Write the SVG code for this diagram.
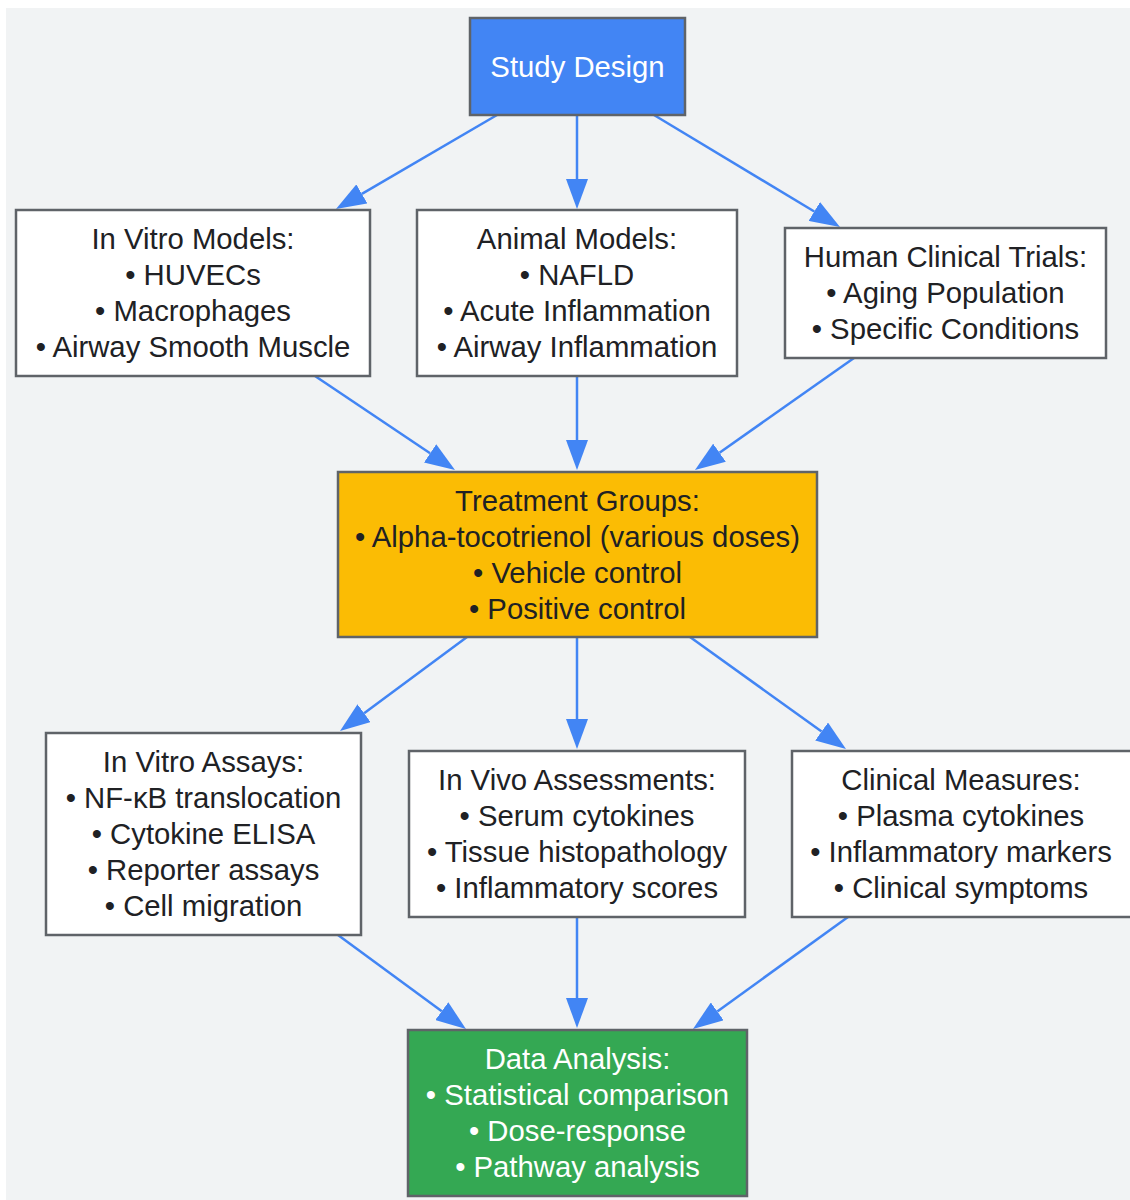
<svg xmlns="http://www.w3.org/2000/svg" width="1130" height="1200" viewBox="0 0 1130 1200">
<style>
.box{stroke:#5f6368;stroke-width:2.5}
.w{fill:#ffffff}
.t{font-family:"Liberation Sans",Arial,sans-serif;font-size:29.3px;text-anchor:middle;fill:#202124}
.lt{fill:#ffffff}
.edge{stroke:#4285f4;stroke-width:2.5;fill:none}
</style>
<defs>
<marker id="ah" markerUnits="userSpaceOnUse" markerWidth="30" markerHeight="22" refX="0" refY="11" orient="auto">
<path d="M0,0 L30,11 L0,22 z" fill="#4285f4"/>
</marker>
</defs>
<rect width="1130" height="1200" fill="#ffffff"/>
<rect x="6" y="8" width="1124" height="1192" fill="#f1f3f4"/>
<g id="connectors">
<line class="edge" x1="497" y1="115" x2="361.9" y2="193.9" marker-end="url(#ah)"/>
<line class="edge" x1="577" y1="115" x2="577" y2="179" marker-end="url(#ah)"/>
<line class="edge" x1="654" y1="115" x2="814.3" y2="211.5" marker-end="url(#ah)"/>
<line class="edge" x1="315" y1="376" x2="430.1" y2="453.3" marker-end="url(#ah)"/>
<line class="edge" x1="577" y1="376" x2="577" y2="440" marker-end="url(#ah)"/>
<line class="edge" x1="854" y1="358" x2="719.5" y2="452.7" marker-end="url(#ah)"/>
<line class="edge" x1="467" y1="637" x2="364.1" y2="713.2" marker-end="url(#ah)"/>
<line class="edge" x1="577" y1="637" x2="577" y2="719" marker-end="url(#ah)"/>
<line class="edge" x1="690" y1="637" x2="821.6" y2="731.5" marker-end="url(#ah)"/>
<line class="edge" x1="338" y1="935" x2="441.8" y2="1011.2" marker-end="url(#ah)"/>
<line class="edge" x1="577" y1="917" x2="577" y2="998" marker-end="url(#ah)"/>
<line class="edge" x1="848" y1="917" x2="717.3" y2="1011.4" marker-end="url(#ah)"/>
</g>
<g id="study-design">
<rect class="box" x="470" y="18" width="215" height="97" fill="#4285f4"/>
<text class="t lt" x="577.5" y="77">Study Design</text>
</g>
<g id="in-vitro-models">
<rect class="box w" x="16" y="210" width="354" height="166"/>
<text class="t" x="193" y="249">In Vitro Models:</text>
<text class="t" x="193" y="285">• HUVECs</text>
<text class="t" x="193" y="321">• Macrophages</text>
<text class="t" x="193" y="357">• Airway Smooth Muscle</text>
</g>
<g id="animal-models">
<rect class="box w" x="417" y="210" width="320" height="166"/>
<text class="t" x="577" y="249">Animal Models:</text>
<text class="t" x="577" y="285">• NAFLD</text>
<text class="t" x="577" y="321">• Acute Inflammation</text>
<text class="t" x="577" y="357">• Airway Inflammation</text>
</g>
<g id="human-trials">
<rect class="box w" x="785" y="228" width="321" height="130"/>
<text class="t" x="945.5" y="267">Human Clinical Trials:</text>
<text class="t" x="945.5" y="303">• Aging Population</text>
<text class="t" x="945.5" y="339">• Specific Conditions</text>
</g>
<g id="treatment-groups">
<rect class="box" x="338" y="472" width="479" height="165" fill="#fbbc04"/>
<text class="t" x="577.5" y="511">Treatment Groups:</text>
<text class="t" x="577.5" y="547">• Alpha-tocotrienol (various doses)</text>
<text class="t" x="577.5" y="583">• Vehicle control</text>
<text class="t" x="577.5" y="619">• Positive control</text>
</g>
<g id="in-vitro-assays">
<rect class="box w" x="46" y="733" width="315" height="202"/>
<text class="t" x="203.5" y="772">In Vitro Assays:</text>
<text class="t" x="203.5" y="808">• NF-κB translocation</text>
<text class="t" x="203.5" y="844">• Cytokine ELISA</text>
<text class="t" x="203.5" y="880">• Reporter assays</text>
<text class="t" x="203.5" y="916">• Cell migration</text>
</g>
<g id="in-vivo-assessments">
<rect class="box w" x="409" y="751" width="336" height="166"/>
<text class="t" x="577" y="790">In Vivo Assessments:</text>
<text class="t" x="577" y="826">• Serum cytokines</text>
<text class="t" x="577" y="862">• Tissue histopathology</text>
<text class="t" x="577" y="898">• Inflammatory scores</text>
</g>
<g id="clinical-measures">
<rect class="box w" x="792" y="751" width="340" height="166"/>
<text class="t" x="961" y="790">Clinical Measures:</text>
<text class="t" x="961" y="826">• Plasma cytokines</text>
<text class="t" x="961" y="862">• Inflammatory markers</text>
<text class="t" x="961" y="898">• Clinical symptoms</text>
</g>
<g id="data-analysis">
<rect class="box" x="408" y="1030" width="339" height="166" fill="#34a853"/>
<text class="t lt" x="577.5" y="1069">Data Analysis:</text>
<text class="t lt" x="577.5" y="1105">• Statistical comparison</text>
<text class="t lt" x="577.5" y="1141">• Dose-response</text>
<text class="t lt" x="577.5" y="1177">• Pathway analysis</text>
</g>
</svg>
